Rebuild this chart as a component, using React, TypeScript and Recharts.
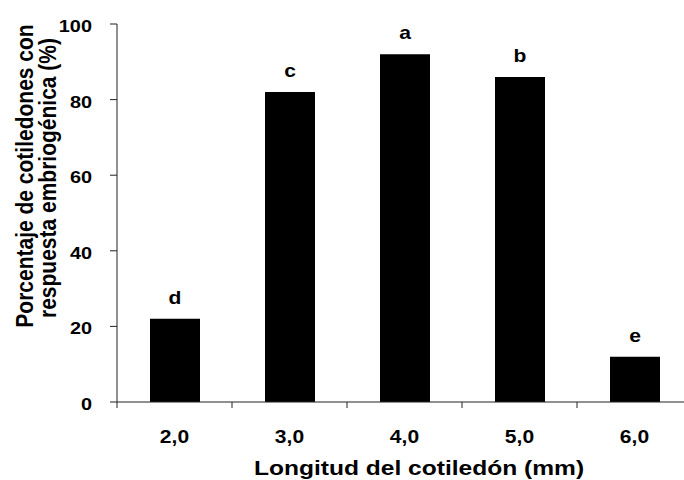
import { BarChart, Bar, XAxis, YAxis, LabelList, Label } from "recharts";

const lengths = ["2,0", "3,0", "4,0", "5,0", "6,0"];
const responsePct = [22, 82, 92, 86, 12];
const groups = ["d", "c", "a", "b", "e"];
const yTicks = [0, 20, 40, 60, 80, 100];

const data = lengths.map((name, i) => ({
  name,
  pct: responsePct[i],
  group: groups[i],
}));

const FONT = '"Liberation Sans", Arial, sans-serif';
const SX = 1.17; // the reference text is stretched horizontally
const CHART_W = 700;
const CHART_H = 480;
const Y_AXIS_W = 117;
const MARGIN = { top: 24, right: 8, bottom: 0, left: 0 };
const BAND = (CHART_W - MARGIN.left - MARGIN.right - Y_AXIS_W) / lengths.length;

const Wide = ({ x, y, size, anchor = "middle", rotate = 0, children }: any) => (
  <text
    transform={`translate(${x} ${y}) scale(${SX} 1)${rotate ? ` rotate(${rotate})` : ""}`}
    textAnchor={anchor}
    fontFamily={FONT}
    fontWeight="bold"
    fontSize={size}
    fill="#000"
  >
    {children}
  </text>
);

// category label plus a tick mark on the left edge of each band
const CategoryTick = (props: any) => {
  const { x, y, payload } = props;
  const edge = x - BAND / 2;
  return (
    <g>
      <line x1={edge} x2={edge} y1={y - 6} y2={y} stroke="#222" strokeWidth={1} />
      <Wide x={x} y={443} size={18}>
        {payload.value}
      </Wide>
    </g>
  );
};

const ValueTick = (props: any) => {
  const { x, y, payload } = props;
  return (
    <Wide x={x} y={y + 8} size={17} anchor="end">
      {payload.value}
    </Wide>
  );
};

const GroupLabel = (props: any) => {
  const { x, y, width, value } = props;
  return (
    <Wide x={x + width / 2} y={y - 15} size={18}>
      {value}
    </Wide>
  );
};

export default function App() {
  return (
    <div
      style={{
        position: "absolute",
        left: 0,
        top: 0,
        width: 684,
        height: 480,
        overflow: "hidden",
        background: "#fff",
      }}
    >
      <BarChart width={CHART_W} height={CHART_H} data={data} margin={MARGIN}>
        <XAxis
          dataKey="name"
          height={78}
          axisLine={{ stroke: "#222" }}
          tickLine={false}
          tickSize={6}
          tickMargin={0}
          tick={<CategoryTick />}
          interval={0}
        >
          <Label
            content={() => (
              <Wide x={419} y={475} size={21}>
                Longitud del cotiledón (mm)
              </Wide>
            )}
          />
        </XAxis>
        <YAxis
          width={Y_AXIS_W}
          domain={[0, 100]}
          ticks={yTicks}
          interval={0}
          axisLine={{ stroke: "#222" }}
          tickLine={{ stroke: "#222" }}
          tickSize={7}
          tickMargin={18}
          tick={<ValueTick />}
        >
          <Label
            content={() => (
              <g>
                <Wide x={33} y={176} size={21} rotate={-90}>
                  Porcentaje de cotiledones con
                </Wide>
                <Wide x={56} y={178} size={21} rotate={-90}>
                  respuesta embriogénica (%)
                </Wide>
              </g>
            )}
          />
        </YAxis>
        <Bar dataKey="pct" fill="#000" barSize={50} isAnimationActive={false}>
          <LabelList dataKey="group" content={<GroupLabel />} />
        </Bar>
      </BarChart>
    </div>
  );
}
